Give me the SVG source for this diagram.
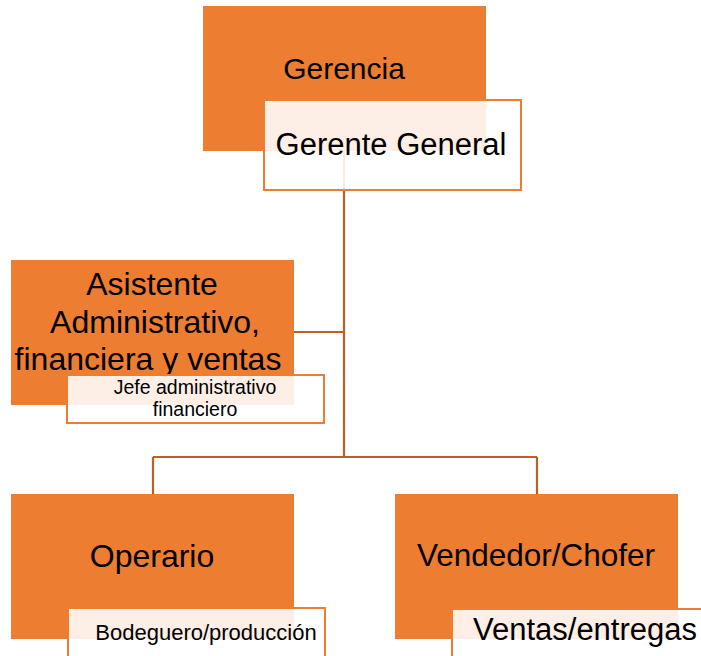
<svg xmlns="http://www.w3.org/2000/svg" width="701" height="656" viewBox="0 0 701 656">
<style>
.main{fill:#ED7D31;stroke:none}
.sub{fill:#ffffff;fill-opacity:0.88;stroke:#ED7D31;stroke-width:2}
.conn{stroke:#BE5F28;stroke-width:2.2;fill:none}
text{font-family:"Liberation Sans",Arial,sans-serif;fill:#000;text-anchor:middle}
</style>
<rect width="701" height="656" fill="#ffffff"/>
<g id="connectors">
<path class="conn" d="M344 151 V457 M294 332 H344 M153 457 H537 M153 457 V494 M537 457 V494"/>
</g>
<g id="gerencia">
<rect class="main" x="203" y="6" width="283" height="145"/>
<text x="344" y="79" font-size="30">Gerencia</text>
</g>
<g id="gerente-general">
<rect class="sub" x="264" y="100" width="257" height="90"/>
<text x="391" y="155" font-size="31">Gerente General</text>
</g>
<g id="asistente">
<rect class="main" x="11" y="260" width="283" height="145"/>
<text x="152" y="295" font-size="32">Asistente</text>
<text x="155" y="333" font-size="32">Administrativo,</text>
<text x="148" y="370" font-size="32">financiera y ventas</text>
</g>
<g id="jefe">
<rect class="sub" x="67" y="375" width="257" height="48"/>
<text x="195" y="394" font-size="19.5">Jefe administrativo</text>
<text x="195" y="416" font-size="19.5">financiero</text>
</g>
<g id="operario">
<rect class="main" x="11" y="494" width="283" height="145"/>
<text x="152" y="567" font-size="32">Operario</text>
</g>
<g id="bodeguero">
<rect class="sub" x="68" y="608" width="257" height="60"/>
<text x="206" y="640" font-size="22">Bodeguero/producción</text>
</g>
<g id="vendedor">
<rect class="main" x="395" y="494" width="283" height="145"/>
<text x="536" y="566" font-size="31.5">Vendedor/Chofer</text>
</g>
<g id="ventas">
<rect class="sub" x="452" y="609" width="270" height="60"/>
<text x="585" y="640" font-size="31">Ventas/entregas</text>
</g>
</svg>
